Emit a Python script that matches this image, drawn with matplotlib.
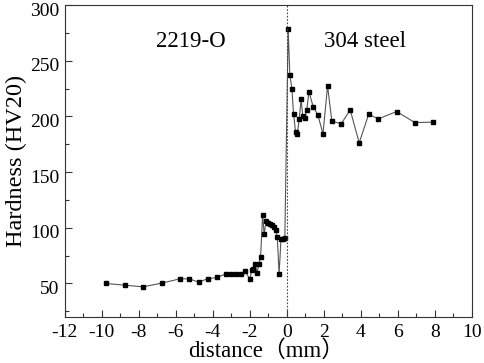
import matplotlib
matplotlib.use('Agg')
import matplotlib.pyplot as plt
import matplotlib.transforms as mtransforms
from matplotlib.ticker import MultipleLocator

plt.rcParams['axes.unicode_minus'] = False

# hardness profile across the joint (distance in mm, hardness in HV20)
dist = [-9.78, -8.77, -7.78, -6.77, -5.78, -5.28, -4.77, -4.29, -3.78, -3.28,
        -3.03, -2.76, -2.50, -2.27, -2.00, -1.91, -1.82, -1.71, -1.62, -1.51,
        -1.42, -1.31, -1.23, -1.12, -1.01, -0.92, -0.81, -0.72, -0.61, -0.52,
        -0.42, -0.32, -0.22, -0.11,
        0.07, 0.16, 0.27, 0.36, 0.47, 0.56, 0.67, 0.77, 0.86, 0.97,
        1.08, 1.19, 1.42, 1.68, 1.95, 2.20, 2.43, 2.94, 3.42, 3.91,
        4.42, 4.94, 5.93, 6.92, 7.91]
hard = [50.0, 48.5, 47.0, 50.3, 54.2, 54.2, 51.2, 54.2, 55.4, 58.7,
        58.1, 58.1, 58.1, 61.6, 53.6, 62.0, 63.2, 67.6, 59.0, 67.3,
        74.0, 111.6, 94.5, 106.0, 104.4, 103.2, 102.2, 101.0, 98.4, 91.8,
        58.4, 89.7, 90.0, 91.0,
        278.5, 237.3, 225.0, 202.6, 186.0, 184.0, 198.0, 215.8, 200.0, 198.5,
        206.0, 222.3, 208.9, 201.0, 184.4, 227.4, 195.8, 193.4, 206.0, 176.3,
        202.0, 197.8, 204.4, 194.5, 194.9]
yticks = [50, 100, 150, 200, 250, 300]

serif = 'Liberation Serif'

fig = plt.figure(figsize=(4.84, 3.63), dpi=100)
ax = fig.add_axes([0.134, 0.127, 0.841, 0.859])

ax.plot(dist, hard, '-', color='#555555', lw=0.8,
        marker='s', ms=3.5, mfc='black', mec='black')
ax.axvline(0, color='#444444', lw=0.8, ls=(0, (1.5, 1.5)))

ax.set_xlim(-12, 10)
ax.set_ylim(20, 300)
ax.xaxis.set_major_locator(MultipleLocator(2))
ax.xaxis.set_minor_locator(MultipleLocator(1))
ax.yaxis.set_minor_locator(MultipleLocator(25))
ax.set_yticks(yticks)
ax.tick_params(which='both', direction='in', top=False, right=False,
               width=0.8, color='#333333')
ax.tick_params(which='major', length=5, labelsize=14)
ax.tick_params(axis='x', which='major', pad=5)
ax.tick_params(axis='y', which='major', pad=4)
ax.tick_params(which='minor', length=3)
for lab in ax.get_xticklabels() + ax.get_yticklabels():
    lab.set_family(serif)
# y labels sit a little below their ticks in the original
off = mtransforms.ScaledTranslation(0, -3 / 72, fig.dpi_scale_trans)
for t in ax.yaxis.get_major_ticks():
    t.label1.set_transform(t.label1.get_transform() + off)
for s in ax.spines.values():
    s.set_color('#333333')
    s.set_linewidth(0.8)

ax.text(-5.2, 267, '2219-O', fontsize=16.5, family=serif,
        ha='center', va='center')
ax.text(4.2, 267, '304 steel', fontsize=16.5, family=serif,
        ha='center', va='center')

ax.set_ylabel('Hardness (HV20)', fontsize=17.5, family=serif, labelpad=2)
fig.text(0.551, 0.0165, 'distance（mm）', fontsize=16.5,
         family=[serif, 'Noto Sans CJK SC'], ha='center', va='baseline')

fig.savefig('out.png', dpi=100)
